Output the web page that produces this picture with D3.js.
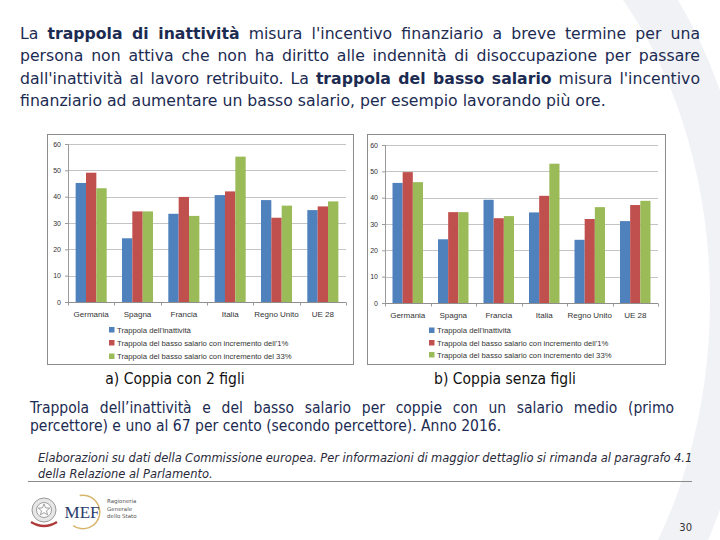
<!DOCTYPE html>
<html><head><meta charset="utf-8">
<script src="https://cdn.jsdelivr.net/npm/d3@7/dist/d3.min.js"></script>
<style>
html,body{margin:0;padding:0;background:#fff;}
svg{display:block;}
</style></head>
<body>
<svg id="page" width="720" height="540"></svg>
<script>
// ---------- DATA ----------
const categories = ["Germania", "Spagna", "Francia", "Italia", "Regno Unito", "UE 28"];
const seriesNames = [
  "Trappola dell'inattività",
  "Trappola del basso salario con incremento dell'1%",
  "Trappola del basso salario con incremento del 33%"
];
// a) Coppia con 2 figli
const chartA_inattivita = [45.2, 24.2, 33.5, 40.6, 38.7, 34.9];
const chartA_salario1   = [49.1, 34.4, 39.9, 42.0, 32.0, 36.3];
const chartA_salario33  = [43.2, 34.4, 32.7, 55.2, 36.6, 38.2];
// b) Coppia senza figli
const chartB_inattivita = [45.6, 24.2, 39.2, 34.4, 24.0, 31.1];
const chartB_salario1   = [49.7, 34.5, 32.2, 40.7, 31.9, 37.2];
const chartB_salario33  = [45.9, 34.5, 33.0, 52.9, 36.4, 38.8];
const yTicks = [0, 10, 20, 30, 40, 50, 60];
const captions = ["a) Coppia con 2 figli", "b) Coppia senza figli"];
const colors = ["#4F81BD", "#C0504D", "#9BBB59"];

const svg = d3.select("#page");
const NAVY = "#1c2b52";
const FONT = "'DejaVu Sans', sans-serif";
const FONTC = "'DejaVu Sans Condensed', 'DejaVu Sans', sans-serif";

// ---------- background watermark ring ----------
(function(){
  const cx = 420, cy = 300;
  const outer = {rx: 335, ry: 470}, inner = {rx: 290, ry: 420};
  const p = `M ${cx} ${cy-outer.ry} A ${outer.rx} ${outer.ry} 0 1 1 ${cx} ${cy+outer.ry} A ${outer.rx} ${outer.ry} 0 1 1 ${cx} ${cy-outer.ry} Z
             M ${cx} ${cy-inner.ry} A ${inner.rx} ${inner.ry} 0 1 0 ${cx} ${cy+inner.ry} A ${inner.rx} ${inner.ry} 0 1 0 ${cx} ${cy-inner.ry} Z`;
  svg.append("clipPath").attr("id","rclip").append("rect").attr("x",540).attr("y",0).attr("width",180).attr("height",540);
  svg.append("path").attr("d", p).attr("fill", "#f1f2f6").attr("fill-rule","evenodd").attr("clip-path","url(#rclip)");
})();

// ---------- justified text helper ----------
function textLine(parent, segs, x, y, width, opts) {
  const t = parent.append("text").attr("x", x).attr("y", y)
    .attr("font-family", opts.family || FONT).attr("font-size", opts.size)
    .attr("fill", opts.color || NAVY);
  if (opts.italic) t.attr("font-style", "italic");
  if (opts.anchor) t.attr("text-anchor", opts.anchor);
  segs.forEach(s => {
    const ts = t.append("tspan").text(s[0]);
    if (s[1]) ts.attr("font-weight", "bold");
  });
  if (opts.justify) {
    const full = segs.map(s => s[0]).join("");
    const n = (full.match(/ /g) || []).length;
    const w = t.node().getComputedTextLength();
    if (n > 0) t.attr("word-spacing", (width - w) / n);
  }
  return t;
}

// ---------- header paragraph ----------
const head = svg.append("g");
const headLines = [
  [["La ",0],["trappola di inattività",1],[" misura l'incentivo finanziario a breve termine per una",0]],
  [["persona non attiva che non ha diritto alle indennità di disoccupazione per passare",0]],
  [["dall'inattività al lavoro retribuito. La ",0],["trappola del basso salario",1],[" misura l'incentivo",0]],
  [["finanziario ad aumentare un basso salario, per esempio lavorando più ore.",0]]
];
const headY = [38.5, 61, 83.5, 106];
headLines.forEach((l, i) => textLine(head, l, 20, headY[i], 680, {size: 15.7, justify: i < 3}));

// ---------- charts ----------
function drawChart(cfg) {
  const g = svg.append("g");
  g.append("rect").attr("x", cfg.box[0] + 0.5).attr("y", cfg.box[1] + 0.5)
    .attr("width", cfg.box[2]).attr("height", cfg.box[3])
    .attr("fill", "#fff").attr("stroke", "#8c8c8c").attr("stroke-width", 1);

  const x0 = d3.scaleBand().domain(categories).range([cfg.plot.x0, cfg.plot.x1])
    .paddingInner(0.33).paddingOuter(0.165);
  const x1 = d3.scaleBand().domain(d3.range(3)).range([0, x0.bandwidth()]);
  const y = d3.scaleLinear().domain([0, 60]).range([cfg.plot.y0, cfg.plot.y1]);

  g.append("g").selectAll("line").data(yTicks).join("line")
    .attr("x1", cfg.plot.x0).attr("x2", cfg.plot.x1)
    .attr("y1", d => Math.round(y(d)) + 0.5).attr("y2", d => Math.round(y(d)) + 0.5)
    .attr("stroke", d => d === 0 ? "#8f8f8f" : "#c4c4c4").attr("stroke-width", 1);

  const ya = g.append("g").attr("transform", `translate(${cfg.plot.x0},0)`)
    .call(d3.axisLeft(y).tickValues(yTicks).tickSize(3).tickPadding(4));
  ya.select(".domain").attr("stroke", "#9a9a9a");
  ya.selectAll(".tick line").attr("stroke", "#9a9a9a");
  ya.selectAll("text").attr("font-family", "'Liberation Sans', Arial, sans-serif")
    .attr("font-size", 7).attr("fill", "#333");

  const series = cfg.data;
  g.append("g").selectAll("g").data(categories).join("g")
    .attr("transform", c => `translate(${x0(c)},0)`)
    .selectAll("rect").data((c, ci) => series.map((s, si) => ({si, v: s[ci]}))).join("rect")
    .attr("x", d => x1(d.si)).attr("width", x1.bandwidth())
    .attr("y", d => y(d.v)).attr("height", d => y(0) - y(d.v))
    .attr("fill", d => colors[d.si]);

  const xa = g.append("g").attr("transform", `translate(0,${Math.round(y(0)) + 0.5})`)
    .call(d3.axisBottom(x0).tickSize(0).tickPadding(9));
  xa.select(".domain").remove();
  xa.selectAll("text").attr("font-family", "'Liberation Sans', Arial, sans-serif")
    .attr("font-size", 8).attr("fill", "#333");
  const step = x0.step();
  const bounds = d3.range(categories.length + 1).map(i => cfg.plot.x0 + i * step);
  xa.append("g").selectAll("line").data(bounds).join("line")
    .attr("x1", d => Math.round(d) + 0.5).attr("x2", d => Math.round(d) + 0.5)
    .attr("y1", 0).attr("y2", 3).attr("stroke", "#9a9a9a");

  const lg = g.append("g");
  seriesNames.forEach((n, i) => {
    const yy = cfg.legend.y[i];
    lg.append("rect").attr("x", cfg.legend.x).attr("y", yy - 3).attr("width", 5.5).attr("height", 5.5)
      .attr("fill", colors[i]);
    lg.append("text").attr("x", cfg.legend.x + 8).attr("y", yy + 2.8)
      .attr("font-family", "'Liberation Sans', Arial, sans-serif").attr("font-size", 7.7)
      .attr("fill", "#333").text(n);
  });

  svg.append("text").attr("x", cfg.caption.x).attr("y", cfg.caption.y).attr("text-anchor", "middle")
    .attr("font-family", FONTC).attr("font-size", 15.5).attr("fill", "#111").text(cfg.caption.text);
}

drawChart({
  box: [47, 134, 306, 230],
  plot: {x0: 68, x1: 346, y0: 302, y1: 144},
  data: [chartA_inattivita, chartA_salario1, chartA_salario33],
  legend: {x: 109, y: [330, 343, 356.5]},
  caption: {x: 175, y: 383.5, text: captions[0]}
});
drawChart({
  box: [367, 134, 298, 230],
  plot: {x0: 385, x1: 658, y0: 303, y1: 145},
  data: [chartB_inattivita, chartB_salario1, chartB_salario33],
  legend: {x: 429, y: [330.5, 343, 355]},
  caption: {x: 505, y: 383.5, text: captions[1]}
});

// ---------- description ----------
const desc = svg.append("g");
textLine(desc, [["Trappola dell’inattività e del basso salario per coppie con un salario medio (primo",0]], 30, 412.5, 644, {size: 15.5, family: FONTC, justify: true});
textLine(desc, [["percettore) e uno al 67 per cento (secondo percettore). Anno 2016.",0]], 30, 430.5, 644, {size: 15.5, family: FONTC});

// ---------- note ----------
textLine(desc, [["Elaborazioni su dati della Commissione europea. Per informazioni di maggior dettaglio si rimanda al paragrafo  4.1",0]], 38, 461.5, 654, {size: 11.5, italic: true, color: "#2a2a3a", justify: true});
textLine(desc, [["della Relazione al Parlamento.",0]], 38, 477.5, 654, {size: 11.5, italic: true, color: "#2a2a3a"});
svg.append("line").attr("x1", 28).attr("x2", 692).attr("y1", 481.5).attr("y2", 481.5)
  .attr("stroke", "#8a8a8a").attr("stroke-width", 1);

// ---------- footer logos ----------
const logo = svg.append("g");
logo.append("circle").attr("cx", 44).attr("cy", 510).attr("r", 12).attr("fill", "#e6e6e6").attr("stroke", "#9a9a9a");
logo.append("circle").attr("cx", 44).attr("cy", 510).attr("r", 7.5).attr("fill", "#fafafa").attr("stroke", "#a0a0a0");
const star = d3.range(10).map(i => {
  const a = -Math.PI / 2 + i * Math.PI / 5, r = i % 2 ? 2.6 : 6;
  return [44 + r * Math.cos(a), 510 + r * Math.sin(a)];
});
logo.append("path").attr("d", d3.line()(star) + "Z").attr("fill", "#fff").attr("stroke", "#8a8a8a").attr("stroke-width", 0.8);
logo.append("path").attr("d", "M31,522 Q44,530 57,522").attr("fill", "none").attr("stroke", "#b03a3a").attr("stroke-width", 2.5);
logo.append("path").attr("d", d3.arc()({innerRadius: 16, outerRadius: 17.5, startAngle: -0.2, endAngle: Math.PI * 1.2}))
  .attr("transform", "translate(83,512)").attr("fill", "#d8b46a");
logo.append("text").attr("x", 82).attr("y", 518).attr("text-anchor", "middle")
  .attr("font-family", "'Liberation Serif', serif").attr("font-size", 17).attr("fill", "#2a3b6b").text("MEF");
["Ragioneria", "Generale", "dello Stato"].forEach((t, i) => {
  logo.append("text").attr("x", 107).attr("y", 503 + i * 7.5).attr("font-family", FONT)
    .attr("font-size", 5.5).attr("fill", "#555").text(t);
});
svg.append("text").attr("x", 692).attr("y", 531).attr("text-anchor", "end")
  .attr("font-family", FONT).attr("font-size", 10).attr("fill", "#333").text("30");
</script>
</body></html>
